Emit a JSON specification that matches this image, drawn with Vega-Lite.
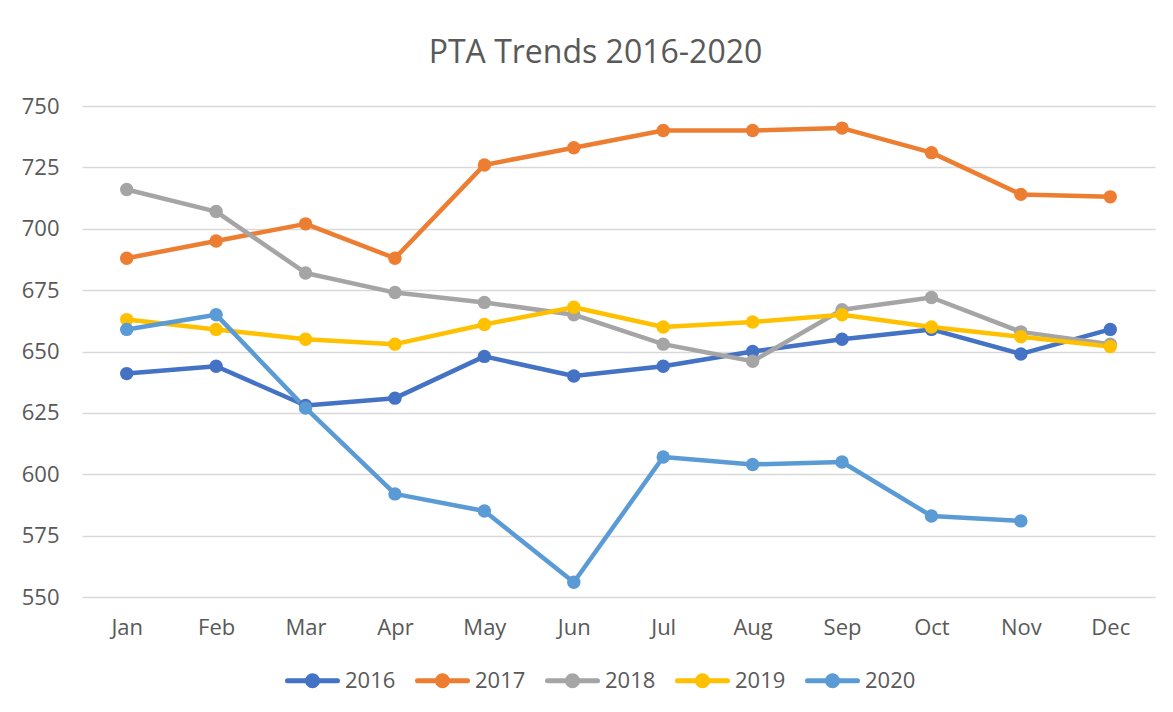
{
  "$schema": "https://vega.github.io/schema/vega-lite/v6.json",
  "autosize": {"type": "none"},
  "width": 1073,
  "height": 491,
  "padding": {"left": 82, "top": 106, "right": 18, "bottom": 115},
  "background": "white",
  "title": {
    "text": "PTA Trends 2016-2020",
    "font": "Open Sans",
    "fontSize": 32,
    "fontWeight": "normal",
    "color": "#595959",
    "anchor": "middle",
    "dx": -23,
    "offset": 25
  },
  "data": {
    "values": [
      {"month": "Jan", "year": "2016", "value": 641},
      {"month": "Feb", "year": "2016", "value": 644},
      {"month": "Mar", "year": "2016", "value": 628},
      {"month": "Apr", "year": "2016", "value": 631},
      {"month": "May", "year": "2016", "value": 648},
      {"month": "Jun", "year": "2016", "value": 640},
      {"month": "Jul", "year": "2016", "value": 644},
      {"month": "Aug", "year": "2016", "value": 650},
      {"month": "Sep", "year": "2016", "value": 655},
      {"month": "Oct", "year": "2016", "value": 659},
      {"month": "Nov", "year": "2016", "value": 649},
      {"month": "Dec", "year": "2016", "value": 659},
      {"month": "Jan", "year": "2017", "value": 688},
      {"month": "Feb", "year": "2017", "value": 695},
      {"month": "Mar", "year": "2017", "value": 702},
      {"month": "Apr", "year": "2017", "value": 688},
      {"month": "May", "year": "2017", "value": 726},
      {"month": "Jun", "year": "2017", "value": 733},
      {"month": "Jul", "year": "2017", "value": 740},
      {"month": "Aug", "year": "2017", "value": 740},
      {"month": "Sep", "year": "2017", "value": 741},
      {"month": "Oct", "year": "2017", "value": 731},
      {"month": "Nov", "year": "2017", "value": 714},
      {"month": "Dec", "year": "2017", "value": 713},
      {"month": "Jan", "year": "2018", "value": 716},
      {"month": "Feb", "year": "2018", "value": 707},
      {"month": "Mar", "year": "2018", "value": 682},
      {"month": "Apr", "year": "2018", "value": 674},
      {"month": "May", "year": "2018", "value": 670},
      {"month": "Jun", "year": "2018", "value": 665},
      {"month": "Jul", "year": "2018", "value": 653},
      {"month": "Aug", "year": "2018", "value": 646},
      {"month": "Sep", "year": "2018", "value": 667},
      {"month": "Oct", "year": "2018", "value": 672},
      {"month": "Nov", "year": "2018", "value": 658},
      {"month": "Dec", "year": "2018", "value": 653},
      {"month": "Jan", "year": "2019", "value": 663},
      {"month": "Feb", "year": "2019", "value": 659},
      {"month": "Mar", "year": "2019", "value": 655},
      {"month": "Apr", "year": "2019", "value": 653},
      {"month": "May", "year": "2019", "value": 661},
      {"month": "Jun", "year": "2019", "value": 668},
      {"month": "Jul", "year": "2019", "value": 660},
      {"month": "Aug", "year": "2019", "value": 662},
      {"month": "Sep", "year": "2019", "value": 665},
      {"month": "Oct", "year": "2019", "value": 660},
      {"month": "Nov", "year": "2019", "value": 656},
      {"month": "Dec", "year": "2019", "value": 652},
      {"month": "Jan", "year": "2020", "value": 659},
      {"month": "Feb", "year": "2020", "value": 665},
      {"month": "Mar", "year": "2020", "value": 627},
      {"month": "Apr", "year": "2020", "value": 592},
      {"month": "May", "year": "2020", "value": 585},
      {"month": "Jun", "year": "2020", "value": 556},
      {"month": "Jul", "year": "2020", "value": 607},
      {"month": "Aug", "year": "2020", "value": 604},
      {"month": "Sep", "year": "2020", "value": 605},
      {"month": "Oct", "year": "2020", "value": 583},
      {"month": "Nov", "year": "2020", "value": 581}
    ]
  },
  "mark": {
    "type": "line",
    "strokeWidth": 4.5,
    "strokeCap": "round",
    "strokeJoin": "round",
    "point": {"filled": true, "size": 180, "opacity": 1}
  },
  "encoding": {
    "x": {
      "field": "month",
      "type": "ordinal",
      "sort": ["Jan", "Feb", "Mar", "Apr", "May", "Jun", "Jul", "Aug", "Sep", "Oct", "Nov", "Dec"],
      "scale": {"type": "point", "padding": 0.5},
      "axis": {
        "title": null,
        "labelAngle": 0,
        "domain": false,
        "ticks": false,
        "grid": false,
        "labelFont": "Open Sans",
        "labelFontSize": 22,
        "labelColor": "#595959",
        "labelPadding": 20
      }
    },
    "y": {
      "field": "value",
      "type": "quantitative",
      "scale": {"domain": [550, 750], "nice": false, "zero": false},
      "axis": {
        "title": null,
        "values": [550, 575, 600, 625, 650, 675, 700, 725, 750],
        "domain": false,
        "ticks": false,
        "grid": true,
        "gridColor": "#D9D9D9",
        "gridWidth": 1.3,
        "labelFont": "Open Sans",
        "labelFontSize": 22,
        "labelColor": "#595959",
        "labelPadding": 23
      }
    },
    "color": {
      "field": "year",
      "type": "nominal",
      "scale": {
        "domain": ["2016", "2017", "2018", "2019", "2020"],
        "range": ["#4472C4", "#ED7D31", "#A5A5A5", "#FFC000", "#5B9BD5"]
      },
      "legend": {
        "title": null,
        "orient": "none",
        "direction": "horizontal",
        "legendX": 203,
        "legendY": 547,
        "padding": 0,
        "symbolType": "M-1,0L1,0M-0.2,0A0.2,0.2 0 1,1 0.2,0A0.2,0.2 0 1,1 -0.2,0Z",
        "symbolSize": 2500,
        "symbolStrokeWidth": 5,
        "symbolOpacity": 1,
        "labelFont": "Open Sans",
        "labelFontSize": 22,
        "labelColor": "#595959",
        "labelOffset": 5,
        "columnPadding": 11,
        "encode": {
          "symbols": {
            "update": {
              "fill": {"scale": "color", "field": "value"},
              "strokeCap": {"value": "round"}
            }
          }
        }
      }
    }
  },
  "config": {
    "view": {"stroke": null}
  }
}
